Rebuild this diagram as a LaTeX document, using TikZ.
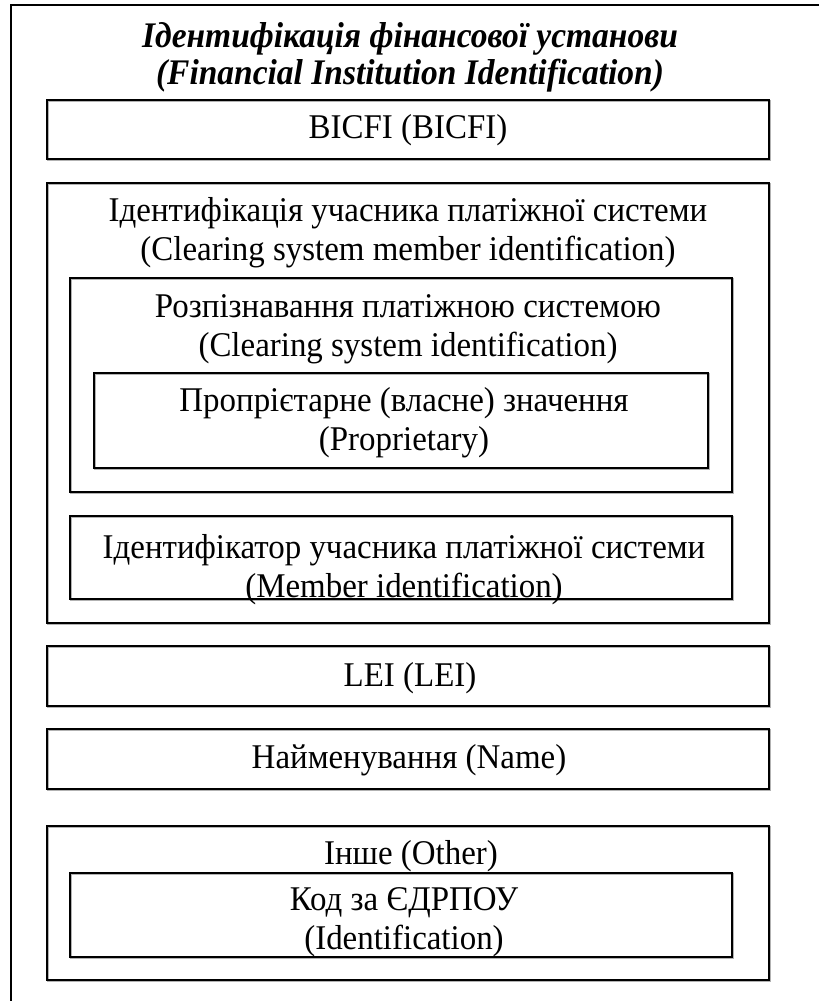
\documentclass[tikz,border=0pt]{standalone}
\usepackage{fontspec}
\setmainfont{Liberation Serif}[FakeStretch=0.95]
\newfontfamily\ttlfont{Liberation Serif}[FakeStretch=0.93]
\usetikzlibrary{fit}
\tikzset{
  box/.style={draw=black, line width=1pt, inner sep=0pt, fill=none,
    preaction={draw=gray!60, line width=0.9pt, transform canvas={shift={(0.7pt,-0.7pt)}}}},
  lbl/.style={align=center, inner sep=0pt, font=\fontsize{26pt}{29.5pt}\selectfont},
  ttl/.style={align=center, inner sep=0pt, font=\ttlfont\fontsize{27pt}{28pt}\selectfont\bfseries\itshape},
}
\begin{document}
\begin{tikzpicture}[x=0.75pt,y=-0.75pt]
\useasboundingbox (0,0) rectangle (819,1001);
\coordinate (frTR) at (819,5);
\coordinate (frTL) at (11,5);
\coordinate (frBL) at (11,1001);
\draw[line width=1.1pt] (frTR) -- (frTL) -- (frBL);

\node[ttl] (title) at (410,57.5) {Ідентифікація фінансової установи\\(Financial Institution Identification)};

\node[box, fit={(47,100)(769,159)}] (bicfi) {};
\node[lbl] (bicfiT) at (408,130) {BICFI (BICFI)};

\node[box, fit={(47,183)(769,623)}] (csmi) {};
\node[lbl] (csmiT) at (408,233) {Ідентифікація учасника платіжної системи\\(Clearing system member identification)};

\node[box, fit={(70,278)(732,492)}] (csid) {};
\node[lbl] (csidT) at (408,329.5) {Розпізнавання платіжною системою\\(Clearing system identification)};

\node[box, fit={(94,373)(708,468)}] (prtry) {};
\node[lbl] (prtryT) at (404,423) {Пропрієтарне (власне) значення\\(Proprietary)};

\node[box, fit={(70,516)(732,599)}] (mmbid) {};
\node[lbl] (mmbidT) at (404,569.5) {Ідентифікатор учасника платіжної системи\\(Member identification)};

\node[box, fit={(47,646)(769,706)}] (lei) {};
\node[lbl] (leiT) at (410,678) {LEI (LEI)};

\node[box, fit={(47,729)(769,789)}] (nm) {};
\node[lbl] (nmT) at (409,760) {Найменування (Name)};

\node[box, fit={(47,826)(769,980)}] (othr) {};
\node[lbl] (othrT) at (411,856) {Інше (Other)};

\node[box, fit={(70,873)(732,957)}] (oid) {};
\node[lbl] (oidT) at (404,922) {Код за ЄДРПОУ\\(Identification)};
\end{tikzpicture}
\end{document}
